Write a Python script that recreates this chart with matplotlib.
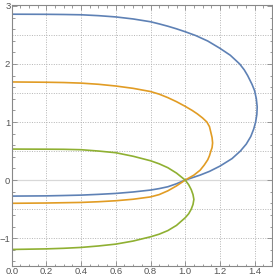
import matplotlib.pyplot as plt
import numpy as np
from matplotlib.ticker import MultipleLocator, FixedLocator

plt.rcParams['font.family'] = ['Liberation Sans', 'DejaVu Sans']

# points, traced from the top at x=0 round to the bottom at x=0
blue_x = [0, 0.2, 0.3, 0.4, 0.5, 0.6, 0.7, 0.8, 0.85, 0.9, 0.95, 1.0, 1.06, 1.13, 1.2, 1.26,
          1.314, 1.34, 1.36, 1.385, 1.40, 1.41, 1.415, 1.413, 1.406, 1.395, 1.378, 1.352, 1.318,
          1.27, 1.2, 1.14, 1.086, 1.04, 1.0, 0.95, 0.9, 0.85, 0.8, 0.7, 0.6, 0.5, 0.4, 0.3, 0.2, 0]
blue_y = [2.857, 2.855, 2.852, 2.847, 2.832, 2.81, 2.775, 2.727, 2.69, 2.65, 2.605, 2.555, 2.49,
          2.395, 2.27, 2.15, 2.0, 1.9, 1.8, 1.65, 1.54, 1.4, 1.26, 1.13, 1.0, 0.88, 0.75, 0.62,
          0.5, 0.37, 0.24, 0.15, 0.086, 0.04, 0, -0.063, -0.115, -0.147, -0.172, -0.205, -0.23,
          -0.246, -0.259, -0.266, -0.272, -0.276]

orange_x = [0, 0.2, 0.3, 0.4, 0.5, 0.6, 0.7, 0.8, 0.85, 0.9, 0.95, 1.0, 1.04, 1.07, 1.1, 1.125,
            1.14, 1.148, 1.155, 1.158, 1.155, 1.148, 1.14, 1.13, 1.11, 1.086, 1.05, 1.0, 0.95,
            0.9, 0.85, 0.8, 0.7, 0.6, 0.5, 0.4, 0.3, 0.2, 0]
orange_y = [1.69, 1.685, 1.68, 1.67, 1.65, 1.62, 1.58, 1.525, 1.48, 1.42, 1.35, 1.27, 1.2, 1.14,
            1.07, 1.0, 0.92, 0.82, 0.73, 0.64, 0.56, 0.5, 0.42, 0.35, 0.26, 0.17, 0.085, 0,
            -0.10, -0.185, -0.25, -0.29, -0.33, -0.356, -0.373, -0.385, -0.39, -0.395, -0.40]

green_x = [0, 0.2, 0.3, 0.4, 0.5, 0.6, 0.7, 0.8, 0.85, 0.9, 0.95, 1.0, 1.02, 1.035, 1.045, 1.05,
           1.045, 1.035, 1.02, 1.0, 0.95, 0.9, 0.85, 0.8, 0.7, 0.6, 0.5, 0.4, 0.3, 0.2, 0]
green_y = [0.534, 0.532, 0.53, 0.523, 0.50, 0.471, 0.41, 0.333, 0.28, 0.213, 0.12, 0, -0.08,
           -0.166, -0.25, -0.333, -0.42, -0.5, -0.58, -0.649, -0.78, -0.87, -0.932, -0.977,
           -1.05, -1.103, -1.135, -1.16, -1.175, -1.185, -1.195]

x_ticks = [0.0, 0.2, 0.4, 0.6, 0.8, 1.0, 1.2, 1.4]
y_ticks = [-1, 0, 1, 2, 3]
x_grid = [0.2, 0.4, 0.6, 0.8, 1.0, 1.2, 1.4]
y_grid = [-1.0, -0.5, 0.5, 1.0, 1.5, 2.0, 2.5]

fig = plt.figure(figsize=(2.73, 2.80), dpi=100)
ax = fig.add_axes([0.043, 0.05, 0.955, 0.931])

for g in x_grid:
    ax.axvline(g, color='#b4b4b4', lw=0.7, ls=(0, (1, 1.5)), zorder=0)
for g in y_grid:
    ax.axhline(g, color='#b4b4b4', lw=0.7, ls=(0, (1, 1.5)), zorder=0)
ax.axhline(0, color='#d8d8d8', lw=0.9, zorder=0)

ax.plot(blue_x, blue_y, color='#5e81b5', lw=1.2, solid_joinstyle='round')
ax.plot(orange_x, orange_y, color='#e19c24', lw=1.2, solid_joinstyle='round')
ax.plot(green_x, green_y, color='#8fb032', lw=1.2, solid_joinstyle='round')

ax.set_xlim(0, 1.503)
ax.set_ylim(-1.48, 3.01)

ax.xaxis.set_major_locator(FixedLocator(x_ticks))
ax.yaxis.set_major_locator(FixedLocator(y_ticks))
ax.xaxis.set_minor_locator(MultipleLocator(0.05))
ax.yaxis.set_minor_locator(MultipleLocator(0.2))
ax.set_xticklabels(['%.1f' % v for v in x_ticks])
ax.set_yticklabels(['\u22121', '0', '1', '2', '3'])

ax.tick_params(which='both', direction='in', top=True, right=True, colors='#888888',
               labelcolor='#555555', labelsize=6.8, pad=1.0, width=0.6)
ax.tick_params(which='major', length=3.5)
ax.tick_params(which='minor', length=1.8)
for s in ax.spines.values():
    s.set_color('#888888')
    s.set_linewidth(0.8)

fig.savefig('out.png', dpi=100)
